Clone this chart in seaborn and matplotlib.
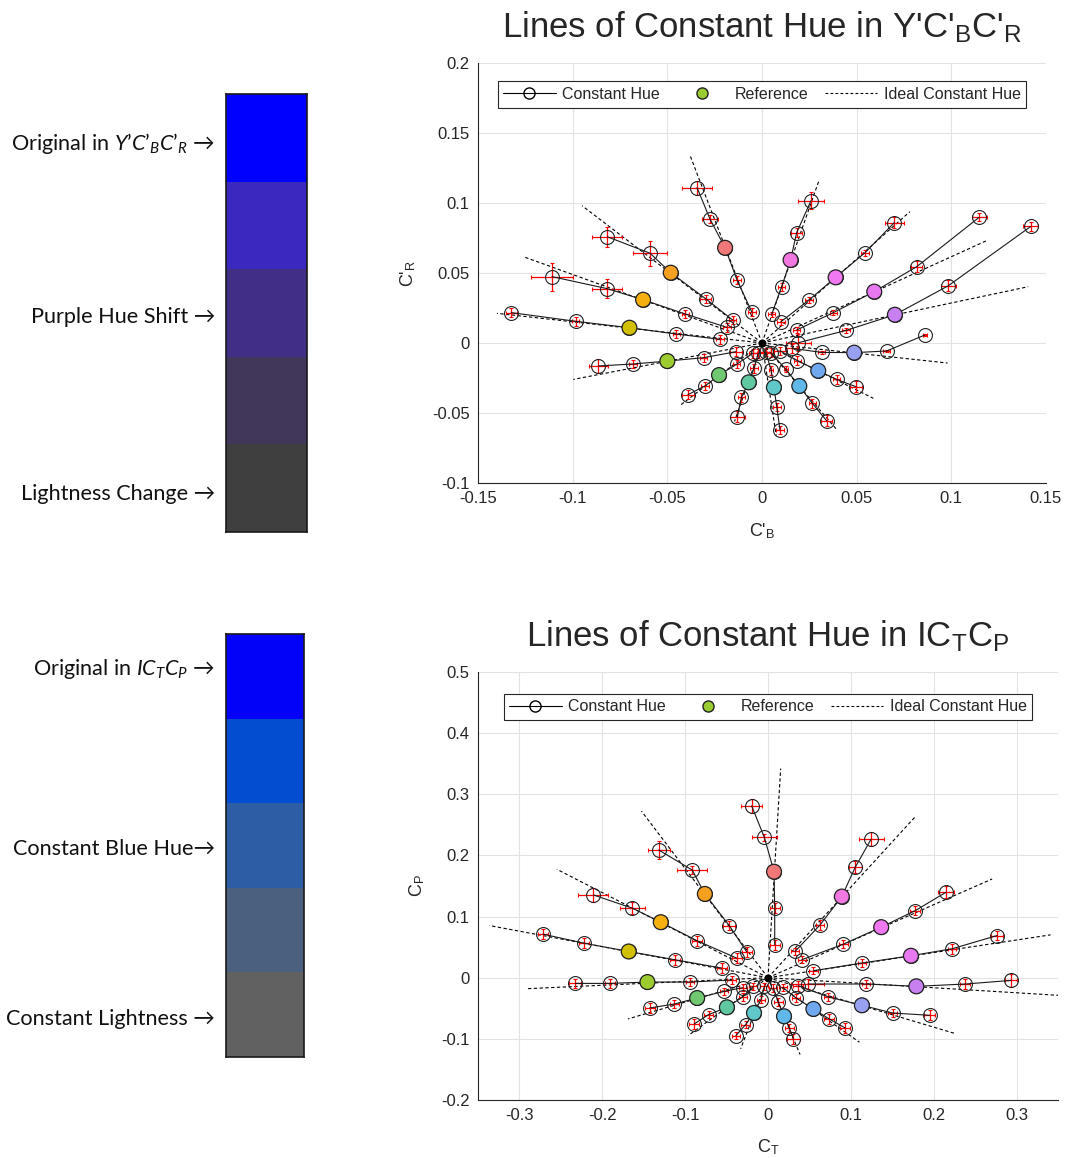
import numpy as np
import pandas as pd
import matplotlib
matplotlib.use("Agg")
import matplotlib.pyplot as plt
from matplotlib.colors import ListedColormap
from matplotlib.lines import Line2D
from matplotlib.ticker import FuncFormatter
import seaborn as sns

# style first, fonts after (set_style resets font.family)
sns.set_style("white")
plt.rcParams["font.family"] = ["Liberation Sans", "DejaVu Sans"]
plt.rcParams["mathtext.fontset"] = "custom"
plt.rcParams["mathtext.rm"] = "Lato"
plt.rcParams["mathtext.it"] = "Lato:italic"
plt.rcParams["mathtext.fallback"] = "stixsans"
plt.rcParams["axes.unicode_minus"] = False

# ---- colour swatches (left side) ----
ybr_swatch = ["#0000FF", "#3B28BE", "#412F86", "#41375B", "#3F3F3F"]
ictcp_swatch = ["#0202F8", "#034ED0", "#2D5DA5", "#4B607F", "#616161"]
ybr_notes = [r"Original in $\mathit{Y’C’_BC’_R}$ →", "Purple Hue Shift →", "Lightness Change →"]
ictcp_notes = [r"Original in $\mathit{IC_TC_P}$ →", "Constant Blue Hue→", "Constant Lightness →"]

# ---- reference colours, one per hue line ----
ref_colors = ["#F07878", "#F5A020", "#F5B010", "#D0C000", "#9CCC30",
              "#70C870", "#60C8A0", "#60C8C8", "#60B8E8", "#70A8F0",
              "#98A0F0", "#C880F0", "#E878F0", "#F078F0", "#F078E0"]
ref_index = 2  # middle point of each line is the reference

# ---- Y'C'bC'r lines (inner -> outer) ----
ybr_x = [[-0.0053, -0.0132, -0.0195, -0.0275, -0.0343],
         [-0.0155, -0.0297, -0.0482, -0.0591, -0.0817],
         [-0.0186, -0.0405, -0.0628, -0.0817, -0.1109],
         [-0.0222, -0.0452, -0.0700, -0.0984, -0.1324],
         [-0.0137, -0.0308, -0.0500, -0.0681, -0.0864],
         [-0.0049, -0.0134, -0.0227, -0.0301, -0.0391],
         [-0.0020, -0.0042, -0.0070, -0.0109, -0.0130],
         [0.0020, 0.0048, 0.0063, 0.0078, 0.0095],
         [0.0046, 0.0125, 0.0197, 0.0266, 0.0341],
         [0.0095, 0.0187, 0.0297, 0.0394, 0.0496],
         [0.0157, 0.0315, 0.0487, 0.0658, 0.0860],
         [0.0192, 0.0444, 0.0702, 0.0984, 0.1420],
         [0.0183, 0.0377, 0.0593, 0.0817, 0.1147],
         [0.0100, 0.0248, 0.0389, 0.0544, 0.0699],
         [0.0051, 0.0104, 0.0151, 0.0183, 0.0259]]
ybr_y = [[0.0220, 0.0450, 0.0680, 0.0886, 0.1110],
         [0.0164, 0.0316, 0.0502, 0.0641, 0.0759],
         [0.0112, 0.0207, 0.0309, 0.0388, 0.0474],
         [0.0026, 0.0064, 0.0109, 0.0155, 0.0217],
         [-0.0062, -0.0105, -0.0129, -0.0150, -0.0164],
         [-0.0074, -0.0152, -0.0229, -0.0307, -0.0369],
         [-0.0074, -0.0181, -0.0281, -0.0388, -0.0526],
         [-0.0065, -0.0195, -0.0317, -0.0455, -0.0621],
         [-0.0069, -0.0186, -0.0307, -0.0431, -0.0555],
         [-0.0055, -0.0126, -0.0198, -0.0260, -0.0312],
         [-0.0038, -0.0067, -0.0069, -0.0057, 0.0057],
         [0.0002, 0.0090, 0.0202, 0.0409, 0.0833],
         [0.0093, 0.0217, 0.0367, 0.0545, 0.0898],
         [0.0152, 0.0307, 0.0469, 0.0645, 0.0860],
         [0.0205, 0.0402, 0.0593, 0.0788, 0.1017]]
ybr_xerr = [[0.002, 0.002, 0, 0.004, 0.008], [0.002, 0.003, 0, 0.009, 0.008],
            [0.002, 0.002, 0, 0.008, 0.011], [0.002, 0.002, 0, 0.002, 0.003],
            [0.003, 0.002, 0, 0.002, 0.005], [0.002, 0.002, 0, 0.002, 0.003],
            [0.003, 0.002, 0, 0.002, 0.004], [0.003, 0.001, 0, 0.002, 0.002],
            [0.002, 0.001, 0, 0.002, 0.003], [0.003, 0.002, 0, 0.002, 0.003],
            [0.003, 0.002, 0, 0.002, 0.001], [0.0066, 0.002, 0, 0.004, 0.004],
            [0.002, 0.002, 0, 0.003, 0.004], [0.002, 0.002, 0, 0.002, 0.005],
            [0.002, 0.002, 0, 0.003, 0.007]]
ybr_yerr = [[0.003, 0.003, 0, 0.003, 0.005], [0.003, 0.003, 0, 0.009, 0.007],
            [0.003, 0.003, 0, 0.007, 0.010], [0.003, 0.003, 0, 0.003, 0.003],
            [0.003, 0.003, 0, 0.003, 0.005], [0.003, 0.003, 0, 0.003, 0.003],
            [0.003, 0.003, 0, 0.003, 0.004], [0.003, 0.003, 0, 0.003, 0.003],
            [0.003, 0.002, 0, 0.003, 0.004], [0.003, 0.003, 0, 0.003, 0.004],
            [0.003, 0.001, 0, 0.001, 0.001], [0.006, 0.002, 0, 0.004, 0.003],
            [0.002, 0.002, 0, 0.004, 0.003], [0.002, 0.002, 0, 0.002, 0.004],
            [0.002, 0.003, 0, 0.003, 0.006]]
ybr_ideal_x = [-0.038, -0.095, -0.1255, -0.140, -0.0996, -0.0437, -0.0145, 0.0075,
               0.0394, 0.0588, 0.098, 0.1406, 0.1186, 0.0781, 0.0303]
ybr_ideal_y = [0.134, 0.098, 0.0614, 0.0212, -0.026, -0.045, -0.056, -0.066,
               -0.0617, -0.0395, -0.0143, 0.0402, 0.0731, 0.0938, 0.1169]

# ---- ICtCp lines (inner -> outer) ----
ictcp_x = [[0.0081, 0.0081, 0.0073, -0.0044, -0.0197],
           [-0.0258, -0.0468, -0.0762, -0.0915, -0.1318],
           [-0.0379, -0.0855, -0.1294, -0.1636, -0.2108],
           [-0.0560, -0.1125, -0.1681, -0.2225, -0.2717],
           [-0.0439, -0.0943, -0.1455, -0.1910, -0.2326],
           [-0.0306, -0.0528, -0.0855, -0.1129, -0.1427],
           [-0.0177, -0.0306, -0.0496, -0.0717, -0.0891],
           [-0.0044, -0.0085, -0.0169, -0.0270, -0.0387],
           [0.0064, 0.0125, 0.0193, 0.0258, 0.0306],
           [0.0177, 0.0339, 0.0548, 0.0738, 0.0931],
           [0.0367, 0.0730, 0.1133, 0.1503, 0.1951],
           [0.0480, 0.1185, 0.1790, 0.2382, 0.2934],
           [0.0548, 0.1133, 0.1725, 0.2221, 0.2765],
           [0.0407, 0.0911, 0.1366, 0.1778, 0.2149],
           [0.0326, 0.0629, 0.0891, 0.1052, 0.1245]]
ictcp_y = [[0.0538, 0.1137, 0.1734, 0.2295, 0.2810],
           [0.0424, 0.0853, 0.1370, 0.1762, 0.2088],
           [0.0321, 0.0604, 0.0908, 0.1137, 0.1354],
           [0.0158, 0.0294, 0.0429, 0.0566, 0.0713],
           [-0.0038, -0.0071, -0.0071, -0.0093, -0.0093],
           [-0.0163, -0.0223, -0.0332, -0.0430, -0.0495],
           [-0.0141, -0.0315, -0.0484, -0.0604, -0.0756],
           [-0.0141, -0.0359, -0.0576, -0.0767, -0.0946],
           [-0.0168, -0.0397, -0.0631, -0.0821, -0.1000],
           [-0.0158, -0.0332, -0.0511, -0.0674, -0.0821],
           [-0.0131, -0.0315, -0.0451, -0.0577, -0.0615],
           [-0.0103, -0.0103, -0.0141, -0.0103, -0.0044],
           [0.0114, 0.0240, 0.0359, 0.0473, 0.0690],
           [0.0294, 0.0549, 0.0827, 0.1098, 0.1398],
           [0.0429, 0.0865, 0.1327, 0.1805, 0.2268]]
ictcp_xerr = [[0.006, 0.006, 0, 0.015, 0.013], [0.006, 0.007, 0, 0.018, 0.013],
              [0.006, 0.006, 0, 0.015, 0.018], [0.006, 0.006, 0, 0.006, 0.006],
              [0.005, 0.005, 0, 0.006, 0.007], [0.005, 0.005, 0, 0.005, 0.006],
              [0.005, 0.005, 0, 0.005, 0.006], [0.005, 0.005, 0, 0.005, 0.005],
              [0.005, 0.005, 0, 0.005, 0.008], [0.005, 0.005, 0, 0.006, 0.006],
              [0.006, 0.005, 0, 0.005, 0.007], [0.020, 0.005, 0, 0.006, 0.007],
              [0.005, 0.005, 0, 0.005, 0.007], [0.005, 0.005, 0, 0.006, 0.010],
              [0.005, 0.005, 0, 0.008, 0.015]]
ictcp_yerr = [[0.008, 0.008, 0, 0.006, 0.012], [0.008, 0.008, 0, 0.006, 0.015],
              [0.008, 0.008, 0, 0.010, 0.012], [0.008, 0.008, 0, 0.008, 0.008],
              [0.006, 0.006, 0, 0.008, 0.008], [0.006, 0.006, 0, 0.006, 0.008],
              [0.006, 0.006, 0, 0.006, 0.008], [0.006, 0.006, 0, 0.006, 0.006],
              [0.006, 0.006, 0, 0.006, 0.008], [0.006, 0.006, 0, 0.008, 0.008],
              [0.008, 0.006, 0, 0.006, 0.008], [0.008, 0.006, 0, 0.008, 0.010],
              [0.006, 0.006, 0, 0.008, 0.008], [0.006, 0.006, 0, 0.008, 0.010],
              [0.006, 0.008, 0, 0.010, 0.012]]
ictcp_ideal_x = [0.0153, -0.1527, -0.2548, -0.3362, -0.2918, -0.169, -0.0963, -0.033,
                 0.0387, 0.1104, 0.2261, 0.353, 0.341, 0.2705, 0.1769]
ictcp_ideal_y = [0.342, 0.2724, 0.1773, 0.0853, -0.018, -0.0674, -0.0946, -0.1163,
                 -0.1256, -0.1055, -0.0914, -0.029, 0.0701, 0.1615, 0.2621]


def fmt_tick(v, pos):
    v = round(v, 3) + 0.0
    return f"{v:g}"


def hue_plot(ax, xs, ys, xerrs, yerrs, ideal_x, ideal_y, leg_y):
    rows = []
    for i in range(len(xs)):
        for k in range(len(xs[i])):
            rows.append({"line": i, "step": k, "x": xs[i][k], "y": ys[i][k],
                         "xerr": xerrs[i][k], "yerr": yerrs[i][k]})
    pts = pd.DataFrame(rows)

    n = len(ideal_x)
    ideal = pd.DataFrame({"line": list(range(n)) * 2,
                          "x": [0.0] * n + list(ideal_x),
                          "y": [0.0] * n + list(ideal_y)})

    # ideal constant hue (dashed)
    sns.lineplot(data=ideal, x="x", y="y", units="line", estimator=None, sort=False,
                 color="k", lw=0.8, linestyle=(0, (3, 2.2)), ax=ax, zorder=2)

    # red error crosses
    err = pts[pts["step"] != ref_index]
    ax.errorbar(err["x"], err["y"], xerr=err["xerr"], yerr=err["yerr"], fmt="none",
                ecolor="red", elinewidth=0.9, capsize=1.3, capthick=0.8, zorder=3)

    # constant hue lines with open circles
    sns.lineplot(data=pts, x="x", y="y", units="line", estimator=None, sort=False,
                 color="#1a1a1a", lw=0.8, marker="o", ms=10, mfc="none", mec="#222222",
                 mew=0.8, ax=ax, zorder=4)

    # reference points
    refs = pts[pts["step"] == ref_index].copy()
    refs["name"] = ["h%d" % i for i in refs["line"]]
    sns.scatterplot(data=refs, x="x", y="y", hue="name", palette=ref_colors, s=115,
                    edgecolor="#222222", linewidth=0.9, legend=False, ax=ax, zorder=5)
    ax.scatter([0], [0], s=22, color="k", zorder=6)

    sns.despine(ax=ax)
    for s in ["left", "bottom"]:
        ax.spines[s].set_color("#262626")
        ax.spines[s].set_linewidth(0.8)
    ax.grid(True, color="#E3E3E3", lw=0.8)
    ax.set_axisbelow(True)
    ax.tick_params(direction="in", length=4, width=0.8, labelsize=12, colors="#262626",
                   pad=6)
    ax.xaxis.set_major_formatter(FuncFormatter(fmt_tick))
    ax.yaxis.set_major_formatter(FuncFormatter(fmt_tick))

    handles = [Line2D([], [], color="k", lw=0.8, marker="o", ms=8, mfc="none", mec="k"),
               Line2D([], [], ls="none", marker="o", ms=8, mfc="#9ACD32", mec="#222222"),
               Line2D([], [], color="k", lw=0.8, ls=(0, (2.5, 2)))]
    leg = ax.legend(handles, ["Constant Hue", "Reference", "Ideal Constant Hue"], ncol=3,
                    loc="upper center", bbox_to_anchor=(0.5, leg_y), fontsize=11.5,
                    frameon=True, fancybox=False, edgecolor="#262626", framealpha=1,
                    handlelength=3.3, columnspacing=1.0, handletextpad=0.4,
                    borderpad=0.35, borderaxespad=0.5)
    leg.get_frame().set_linewidth(0.8)
    leg.set_zorder(10)


fig = plt.figure(figsize=(10.7, 11.58), dpi=100)

# top plot
ax1 = fig.add_axes([478 / 1070, 1 - 483 / 1158, 568 / 1070, 420 / 1158])
hue_plot(ax1, ybr_x, ybr_y, ybr_xerr, ybr_yerr, ybr_ideal_x, ybr_ideal_y, 0.975)
ax1.set_xlim(-0.15, 0.15)
ax1.set_ylim(-0.1, 0.2)
ax1.set_xticks([-0.15, -0.1, -0.05, 0, 0.05, 0.1, 0.15])
ax1.set_yticks([-0.1, -0.05, 0, 0.05, 0.1, 0.15, 0.2])
ax1.set_title(r"Lines of Constant Hue in Y'C'$_\mathregular{B}$C'$_\mathregular{R}$",
              fontsize=25, pad=18)
ax1.set_xlabel(r"C'$_\mathregular{B}$", fontsize=13, labelpad=11)
ax1.set_ylabel(r"C'$_\mathregular{R}$", fontsize=13, labelpad=10)

# bottom plot
ax2 = fig.add_axes([478 / 1070, 1 - 1100 / 1158, 580 / 1070, 428 / 1158])
hue_plot(ax2, ictcp_x, ictcp_y, ictcp_xerr, ictcp_yerr, ictcp_ideal_x, ictcp_ideal_y, 0.968)
ax2.set_xlim(-0.35, 0.35)
ax2.set_ylim(-0.2, 0.5)
ax2.set_xticks([-0.3, -0.2, -0.1, 0, 0.1, 0.2, 0.3])
ax2.set_yticks([-0.2, -0.1, 0, 0.1, 0.2, 0.3, 0.4, 0.5])
ax2.set_title(r"Lines of Constant Hue in IC$_\mathregular{T}$C$_\mathregular{P}$",
              fontsize=25, pad=18)
ax2.set_xlabel(r"C$_\mathregular{T}$", fontsize=13, labelpad=10)
ax2.set_ylabel(r"C$_\mathregular{P}$", fontsize=13, labelpad=10)

# swatches
for rect, cols in [([226 / 1070, 1 - 532 / 1158, 81 / 1070, 438 / 1158], ybr_swatch),
                   ([226 / 1070, 1 - 1057 / 1158, 78 / 1070, 423 / 1158], ictcp_swatch)]:
    sax = fig.add_axes(rect)
    sns.heatmap(np.arange(len(cols)).reshape(-1, 1), cmap=ListedColormap(cols),
                vmin=-0.5, vmax=len(cols) - 0.5, cbar=False, xticklabels=False,
                yticklabels=False, ax=sax)
    for s in sax.spines.values():
        s.set_visible(True)
        s.set_color("#1a1a1a")
        s.set_linewidth(1.2)

for txt, ypx in zip(ybr_notes, [143, 317, 494]):
    fig.text(215 / 1070, 1 - ypx / 1158, txt, ha="right", va="center", fontsize=15.6,
             family="Lato", color="#111111")
for txt, ypx in zip(ictcp_notes, [669, 849, 1019]):
    fig.text(215 / 1070, 1 - ypx / 1158, txt, ha="right", va="center", fontsize=15.6,
             family="Lato", color="#111111")

fig.savefig("out.png", dpi=100)
